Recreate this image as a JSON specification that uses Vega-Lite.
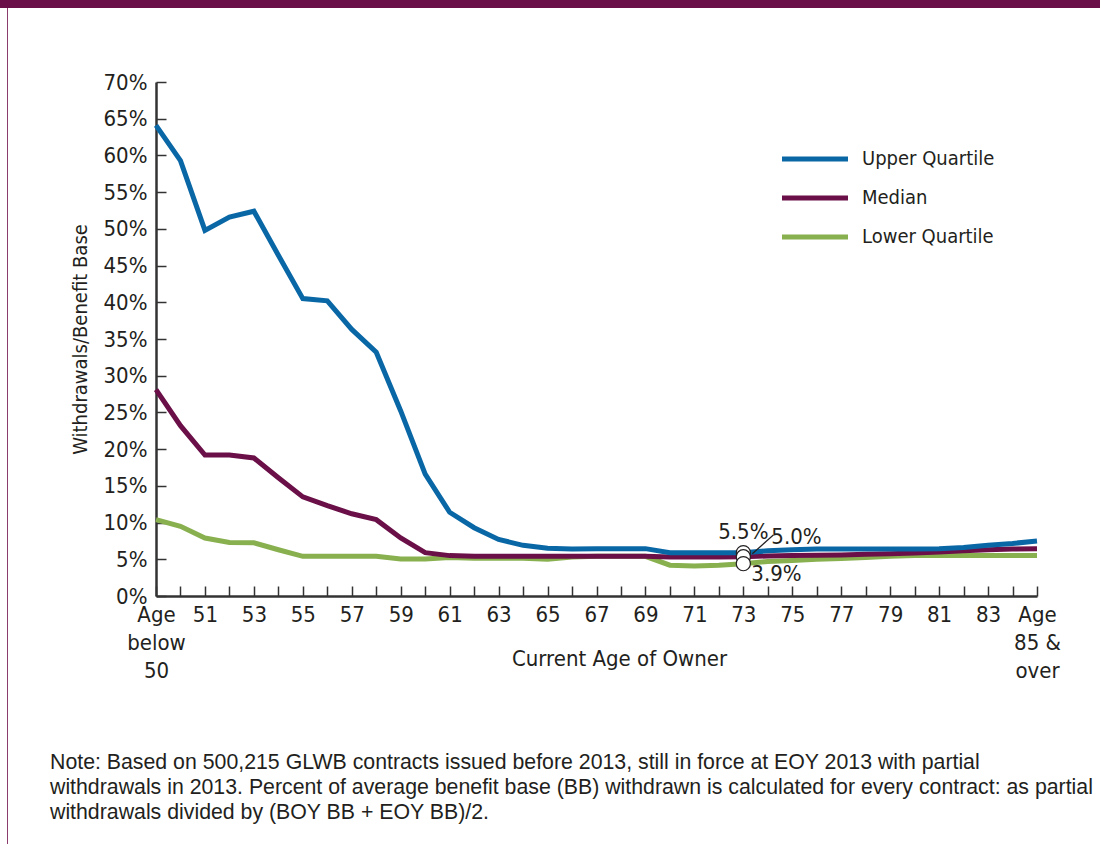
{
  "$schema": "https://vega.github.io/schema/vega-lite/v6.json",
  "padding": 0,
  "background": "white",
  "spacing": 0,
  "bounds": "flush",
  "config": {
    "view": {"stroke": null},
    "font": "DejaVu Sans Condensed, sans-serif"
  },
  "datasets": {
    "ages": [
      {"age": "below 50", "upper": 64.1, "median": 28.1, "lower": 10.4},
      {"age": "50", "upper": 59.3, "median": 23.2, "lower": 9.5},
      {"age": "51", "upper": 49.8, "median": 19.2, "lower": 7.9},
      {"age": "52", "upper": 51.6, "median": 19.2, "lower": 7.3},
      {"age": "53", "upper": 52.4, "median": 18.8, "lower": 7.25},
      {"age": "54", "upper": 46.4, "median": 16.1, "lower": 6.3},
      {"age": "55", "upper": 40.5, "median": 13.5, "lower": 5.4},
      {"age": "56", "upper": 40.2, "median": 12.3, "lower": 5.4},
      {"age": "57", "upper": 36.3, "median": 11.2, "lower": 5.4},
      {"age": "58", "upper": 33.2, "median": 10.4, "lower": 5.4},
      {"age": "59", "upper": 25.2, "median": 7.9, "lower": 5.05},
      {"age": "60", "upper": 16.6, "median": 5.9, "lower": 5.05},
      {"age": "61", "upper": 11.4, "median": 5.5, "lower": 5.25},
      {"age": "62", "upper": 9.3, "median": 5.4, "lower": 5.15},
      {"age": "63", "upper": 7.7, "median": 5.4, "lower": 5.15},
      {"age": "64", "upper": 6.9, "median": 5.4, "lower": 5.15},
      {"age": "65", "upper": 6.5, "median": 5.4, "lower": 5.0},
      {"age": "66", "upper": 6.4, "median": 5.4, "lower": 5.3},
      {"age": "67", "upper": 6.45, "median": 5.4, "lower": 5.4},
      {"age": "68", "upper": 6.45, "median": 5.4, "lower": 5.4},
      {"age": "69", "upper": 6.45, "median": 5.4, "lower": 5.4},
      {"age": "70", "upper": 5.9, "median": 5.3, "lower": 4.2},
      {"age": "71", "upper": 5.9, "median": 5.3, "lower": 4.1},
      {"age": "72", "upper": 5.9, "median": 5.3, "lower": 4.2},
      {"age": "73", "upper": 5.9, "median": 5.35, "lower": 4.4},
      {"age": "74", "upper": 6.15, "median": 5.45, "lower": 4.7},
      {"age": "75", "upper": 6.3, "median": 5.5, "lower": 4.85},
      {"age": "76", "upper": 6.4, "median": 5.55, "lower": 5.0},
      {"age": "77", "upper": 6.4, "median": 5.6, "lower": 5.1},
      {"age": "78", "upper": 6.4, "median": 5.7, "lower": 5.25},
      {"age": "79", "upper": 6.4, "median": 5.75, "lower": 5.4},
      {"age": "80", "upper": 6.4, "median": 5.85, "lower": 5.5},
      {"age": "81", "upper": 6.45, "median": 6.0, "lower": 5.5},
      {"age": "82", "upper": 6.6, "median": 6.15, "lower": 5.5},
      {"age": "83", "upper": 6.9, "median": 6.3, "lower": 5.5},
      {"age": "84", "upper": 7.15, "median": 6.4, "lower": 5.5},
      {"age": "85 & over", "upper": 7.5, "median": 6.45, "lower": 5.5}
    ],
    "notes": [
      {"age": "73", "series": "upper", "value": 5.9, "label": "5.5%"},
      {"age": "73", "series": "median", "value": 5.35, "label": "5.0%"},
      {"age": "73", "series": "lower", "value": 4.4, "label": "3.9%"}
    ]
  },
  "vconcat": [
    {"width": 1100, "height": 8, "view": {"fill": "#6a0f47", "stroke": null}, "data": {"values": []}, "mark": "rect"},
    {
      "spacing": 0,
      "bounds": "flush",
      "hconcat": [
        {"width": 7, "height": 836, "data": {"values": []}, "mark": "rect"},
        {"width": 1, "height": 836, "view": {"fill": "#8c3c6c", "stroke": null}, "data": {"values": []}, "mark": "rect"},
        {"width": 148, "height": 836, "data": {"values": []}, "mark": "rect"},
        {
          "spacing": 0,
          "bounds": "flush",
          "vconcat": [
            {"width": 881, "height": 74, "data": {"values": []}, "mark": "rect"},
            {
              "width": 881,
              "height": 514,
              "title": {
                "text": [
                  "Note: Based on 500,215 GLWB contracts issued before 2013, still in force at EOY 2013 with partial",
                  "withdrawals in 2013. Percent of average benefit base (BB) withdrawn is calculated for every contract: as partial",
                  "withdrawals divided by (BOY BB + EOY BB)/2."
                ],
                "orient": "bottom",
                "anchor": "start",
                "frame": "group",
                "dx": -106,
                "offset": 71,
                "font": "Liberation Sans",
                "fontSize": 21.3,
                "fontWeight": "normal",
                "lineHeight": 25,
                "color": "#231f20"
              },
              "encoding": {
                "x": {
                  "field": "age",
                  "type": "ordinal",
                  "scale": {
                    "type": "point",
                    "padding": 0,
                    "domain": ["below 50", "50", "51", "52", "53", "54", "55", "56", "57", "58", "59", "60", "61", "62", "63", "64", "65", "66", "67", "68", "69", "70", "71", "72", "73", "74", "75", "76", "77", "78", "79", "80", "81", "82", "83", "84", "85 & over"]
                  },
                  "axis": {
                    "title": "Current Age of Owner",
                    "titleX": 463,
                    "titleY": 52,
                    "titleBaseline": "top",
                    "titleFontSize": 22,
                    "titleFontWeight": "normal",
                    "titleColor": "#231f20",
                    "labelAngle": 0,
                    "labelOverlap": false,
                    "labelFontSize": 22,
                    "labelLineHeight": 28,
                    "labelColor": "#231f20",
                    "labelPadding": 18,
                    "labelExpr": "datum.value == 'below 50' ? ['Age', 'below', '50'] : datum.value == '85 & over' ? ['Age', '85 &', 'over'] : (toNumber(datum.value) % 2 == 1 ? datum.value : '')",
                    "tickSize": -10,
                    "tickWidth": 1.5,
                    "tickColor": "#333333",
                    "domainColor": "#333333",
                    "domainWidth": 2.5,
                    "grid": false
                  }
                },
                "y": {
                  "field": "value",
                  "type": "quantitative",
                  "scale": {"domain": [0, 70], "nice": false},
                  "axis": {
                    "title": "Withdrawals/Benefit Base",
                    "titleFontSize": 20,
                    "titleFontWeight": "normal",
                    "titleColor": "#231f20",
                    "titlePadding": 13,
                    "values": [0, 5, 10, 15, 20, 25, 30, 35, 40, 45, 50, 55, 60, 65, 70],
                    "labelExpr": "datum.value + '%'",
                    "labelOverlap": false,
                    "labelFontSize": 22,
                    "labelColor": "#231f20",
                    "labelPadding": 19,
                    "tickSize": -10,
                    "tickWidth": 1.5,
                    "tickColor": "#333333",
                    "domainColor": "#333333",
                    "domainWidth": 2.5,
                    "grid": false
                  }
                }
              },
              "layer": [
                {
                  "data": {"name": "ages"},
                  "transform": [{"fold": ["lower", "median", "upper"], "as": ["series", "value"]}],
                  "mark": {"type": "line", "strokeWidth": 5, "strokeCap": "butt"},
                  "encoding": {
                    "color": {
                      "field": "series",
                      "type": "nominal",
                      "scale": {"domain": ["upper", "median", "lower"], "range": ["#0a67a6", "#6a0f47", "#88b04f"]},
                      "legend": {
                        "orient": "none",
                        "legendX": 796,
                        "legendY": 140,
                        "title": null,
                        "symbolType": "M-2,0H2",
                        "symbolStrokeWidth": 5,
                        "symbolSize": 1089,
                        "labelFontSize": 20,
                        "labelColor": "#231f20",
                        "labelOffset": 28,
                        "rowPadding": 10,
                        "labelExpr": "datum.label == 'upper' ? 'Upper Quartile' : datum.label == 'median' ? 'Median' : 'Lower Quartile'"
                      }
                    }
                  }
                },
                {
                  "data": {"name": "notes"},
                  "mark": {"type": "point", "filled": true, "fill": "white", "stroke": "#231f20", "strokeWidth": 1.2, "size": 200, "opacity": 1}
                },
                {
                  "data": {"name": "notes"},
                  "transform": [{"filter": "datum.series == 'median'"}],
                  "mark": {"type": "rule", "color": "#231f20", "strokeWidth": 1.2, "xOffset": 9, "x2Offset": 30, "yOffset": -3},
                  "encoding": {
                    "x2": {"field": "age"},
                    "y2": {"datum": 8.3}
                  }
                },
                {
                  "data": {"name": "notes"},
                  "transform": [{"filter": "datum.series == 'upper'"}],
                  "mark": {"type": "text", "fontSize": 22, "color": "#231f20", "align": "center", "baseline": "alphabetic", "dy": -14},
                  "encoding": {"text": {"field": "label"}}
                },
                {
                  "data": {"name": "notes"},
                  "transform": [{"filter": "datum.series == 'median'"}],
                  "mark": {"type": "text", "fontSize": 22, "color": "#231f20", "align": "left", "baseline": "alphabetic", "dx": 28, "dy": -13},
                  "encoding": {"text": {"field": "label"}}
                },
                {
                  "data": {"name": "notes"},
                  "transform": [{"filter": "datum.series == 'lower'"}],
                  "mark": {"type": "text", "fontSize": 22, "color": "#231f20", "align": "left", "baseline": "alphabetic", "dx": 8, "dy": 17},
                  "encoding": {"text": {"field": "label"}}
                }
              ]
            }
          ]
        }
      ]
    }
  ]
}
